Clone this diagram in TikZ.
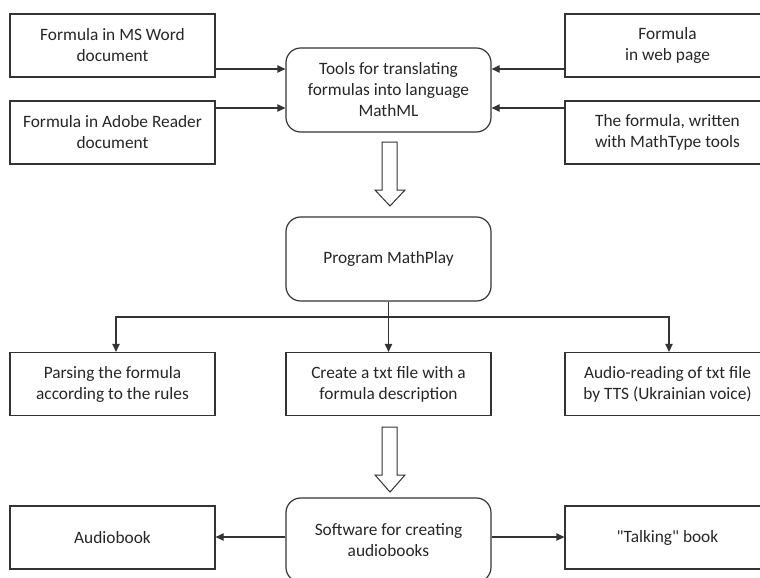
\documentclass[tikz,border=0pt]{standalone}
\usepackage{fontspec}
\setmainfont{Carlito}[Ligatures=TeXOff]
\usetikzlibrary{arrows.meta}
\begin{document}
\begin{tikzpicture}[x=0.75pt,y=-0.75pt,
  every node/.style={font=\fontsize{13}{15.75}\selectfont, text=black!85, align=center},
  plainbox/.style={draw=black!80, line width=0.9pt, rectangle,
    minimum width=153.75pt, minimum height=47.25pt, inner sep=0pt},
  roundbox/.style={draw=black!80, line width=0.9pt, rectangle, rounded corners=11pt,
    minimum width=153.75pt, minimum height=63pt, inner sep=0pt},
  arr/.style={draw=black!80, line width=0.9pt, -{Triangle[length=6pt,width=5.5pt]}},
  hollow/.style={draw=black!80, line width=0.75pt, fill=white, line join=miter}]
\useasboundingbox (0,0) rectangle (760,578);
\clip (0,0) rectangle (760,578);

% sources of formulas
\node[plainbox] (word)  at (112.5,45.5)  {Formula in MS Word\\document};
\node[plainbox] (adobe) at (112.5,132.5) {Formula in Adobe Reader\\document};
\node[plainbox] (web)   at (667.5,45.5)  {Formula\\in web page};
\node[plainbox] (mtype) at (667.5,132.5) {The formula, written\\with MathType tools};
\node[roundbox] (tools) at (388.5,90)    {Tools for translating\\formulas into language\\MathML};

\draw[arr] (word.east |- 0,69)   -- (tools.west |- 0,69);
\draw[arr] (adobe.east |- 0,108) -- (tools.west |- 0,108);
\draw[arr] (web.west |- 0,69)    -- (tools.east |- 0,69);
\draw[arr] (mtype.west |- 0,108) -- (tools.east |- 0,108);

% processing
\node[roundbox] (play) at (388.5,259) {Program MathPlay};

\node[plainbox] (parse)  at (112.5,384) {Parsing the formula\\according to the rules};
\node[plainbox] (create) at (388.5,384) {Create a txt file with a\\formula description};
\node[plainbox] (audio)  at (667.5,384) {Audio-reading of txt file\\by TTS (Ukrainian voice)};

\coordinate (split) at (play.south |- 0,317);
\draw[arr] (play.south) -- (create.north);
\draw[arr] (split) -- (116,317) -- (parse.north -| 116,0);
\draw[arr] (split) -- (669,317) -- (audio.north -| 669,0);

% output
\node[roundbox] (soft) at (388.5,540) {Software for creating\\audiobooks};
\node[plainbox] (abook) at (112.5,537.5) {Audiobook};
\node[plainbox] (tbook) at (667.5,537.5) {"Talking" book};

\draw[arr] (soft.west |- 0,537) -- (abook.east |- 0,537);
\draw[arr] (soft.east |- 0,537) -- (tbook.west |- 0,537);

% hollow block arrows between stages
\draw[hollow] (382,142) -- (397,142) -- (397,190) -- (405,190) -- (390,206)
  -- (375,190) -- (382,190) -- cycle;
\draw[hollow] (382,427) -- (397,427) -- (397,475) -- (405,475) -- (390,492)
  -- (375,475) -- (382,475) -- cycle;
\end{tikzpicture}
\end{document}
